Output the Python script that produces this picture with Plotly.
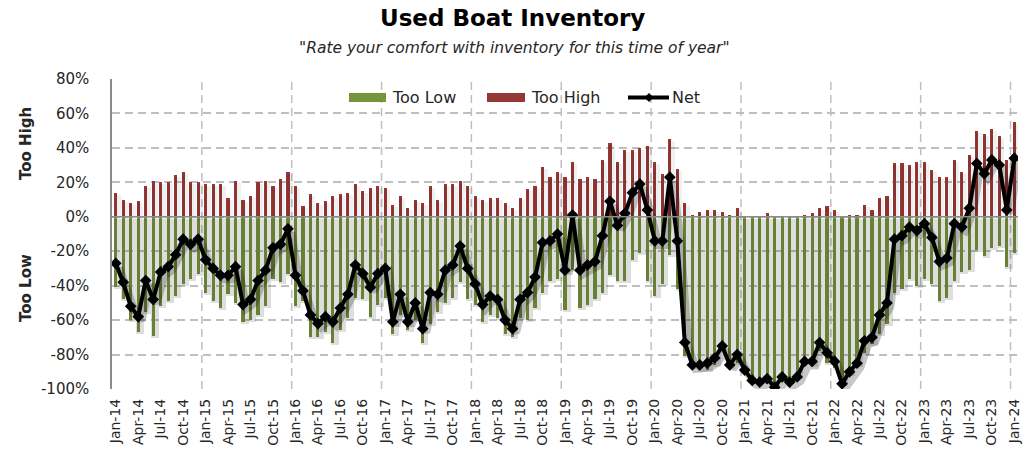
import plotly.graph_objects as go
import pandas as pd

# Monthly survey, Jan-14 .. Jan-24
months = pd.date_range("2014-01-01", "2024-01-01", freq="MS").strftime("%b-%y").tolist()

too_high = [14, 10, 8, 9, 18, 21, 20, 20, 24, 26, 20, 20,
            19, 19, 19, 11, 21, 10, 12, 20, 21, 18, 22, 26,
            18, 6, 13, 8, 9, 12, 13, 14, 19, 15, 17, 18,
            17, 7, 12, 5, 10, 8, 18, 10, 19, 19, 21, 18,
            12, 10, 11, 11, 8, 5, 11, 16, 18, 29, 23, 26,
            23, 32, 22, 23, 22, 33, 43, 32, 39, 39, 40, 41,
            32, 25, 45, 28, 8, 1, 3, 4, 4, 3, 1, 5,
            0, 0, 0, 2, 0, 0, 0, 0, 1, 2, 5, 6,
            4, 0, 1, 1, 7, 4, 11, 12, 31, 31, 30, 32,
            32, 27, 23, 23, 33, 26, 36, 50, 48, 51, 47, 33,
            55]

too_low = [-41, -48, -60, -67, -55, -69, -52, -49, -46, -39, -36, -33,
           -44, -49, -53, -45, -50, -61, -60, -57, -52, -36, -38, -33,
           -52, -49, -70, -70, -67, -73, -66, -59, -47, -48, -58, -51,
           -47, -68, -57, -66, -60, -73, -62, -55, -50, -47, -38, -48,
           -51, -61, -57, -59, -68, -70, -59, -60, -53, -44, -37, -36,
           -54, -31, -53, -51, -48, -44, -34, -37, -37, -25, -21, -37,
           -46, -39, -22, -42, -81, -87, -89, -89, -86, -78, -87, -85,
           -89, -95, -96, -96, -99, -93, -96, -93, -85, -86, -78, -85,
           -88, -97, -91, -86, -79, -74, -68, -62, -44, -42, -36, -40,
           -36, -39, -49, -47, -37, -32, -31, -19, -23, -18, -17, -29,
           -21]

net = [-27, -38, -52, -58, -37, -48, -32, -29, -22, -13, -16, -13,
       -25, -30, -34, -34, -29, -51, -48, -37, -31, -18, -16, -7,
       -34, -43, -57, -62, -58, -61, -53, -45, -28, -33, -41, -33,
       -30, -61, -45, -61, -50, -65, -44, -45, -31, -28, -17, -30,
       -39, -51, -46, -48, -60, -65, -48, -44, -35, -15, -14, -10,
       -31, 1, -31, -28, -26, -11, 9, -5, 2, 14, 19, 4,
       -14, -14, 23, -14, -73, -86, -86, -85, -82, -75, -86, -80,
       -89, -95, -96, -94, -99, -93, -96, -93, -84, -84, -73, -79,
       -84, -97, -90, -85, -72, -70, -57, -50, -13, -11, -6, -8,
       -4, -12, -26, -24, -4, -6, 5, 31, 25, 33, 30, 4,
       34]

tick_labels = months[::3]
y_ticks = [-100, -80, -60, -40, -20, 0, 20, 40, 60, 80]
y_tick_labels = ["-100%", "-80%", "-60%", "-40%", "-20%", "0%", "20%", "40%", "60%", "80%"]

GREEN = "#77933C"
RED = "#953735"
GRID = "#BFBFBF"
TEXT = "#262626"
FONT = "DejaVu Sans"

W, H = 1027, 454
L, R, T, B = 112, 9, 79, 65
PW, PH = W - L - R, H - T - B
X_RANGE = [-0.5, len(months) - 0.5]
Y_RANGE = [-100, 80]


def px_x(px):
    return (px - L) / PW


def px_y(py):
    return (H - B - py) / PH


# shadow layer: same data drawn on an overlay axis nudged right/down a few pixels
sx = 2.0 * (X_RANGE[1] - X_RANGE[0]) / PW
sy = 2.0 * (Y_RANGE[1] - Y_RANGE[0]) / PH
lx = 3.5 * (X_RANGE[1] - X_RANGE[0]) / PW
ly = 4.0 * (Y_RANGE[1] - Y_RANGE[0]) / PH

fig = go.Figure()

fig.add_trace(go.Bar(x=months, y=too_low, width=1.0, marker_color="rgba(0,0,0,0.13)",
                     marker_line_width=0, xaxis="x2", yaxis="y2", hoverinfo="skip",
                     showlegend=False))
fig.add_trace(go.Bar(x=months, y=too_high, width=0.8, marker_color="rgba(0,0,0,0.06)",
                     marker_line_width=0, xaxis="x2", yaxis="y2", hoverinfo="skip",
                     showlegend=False))
fig.add_trace(go.Scatter(x=months, y=net, mode="lines", xaxis="x3", yaxis="y3",
                         line=dict(color="rgba(0,0,0,0.22)", width=8),
                         hoverinfo="skip", showlegend=False))

fig.add_trace(go.Bar(x=months, y=too_low, name="Too Low", width=0.42,
                     marker_color=GREEN, marker_line_width=0))
fig.add_trace(go.Bar(x=months, y=too_high, name="Too High", width=0.42,
                     marker_color=RED, marker_line_width=0))
fig.add_trace(go.Scatter(x=months, y=net, name="Net", mode="lines+markers",
                         line=dict(color="black", width=4),
                         marker=dict(symbol="diamond", size=9, color="black")))

shapes = []
# yearly dashed separators
for k in range(12, len(months), 12):
    shapes.append(dict(type="line", xref="x", yref="paper", x0=k - 0.5, x1=k - 0.5,
                       y0=0, y1=1, layer="below",
                       line=dict(color=GRID, width=1.5, dash="8px,5px")))
# zero line
shapes.append(dict(type="line", xref="paper", yref="y", x0=0, x1=1, y0=0, y1=0,
                   layer="above", line=dict(color="#8C8C8C", width=1.5)))

# legend
leg_y = 97.5
shapes.append(dict(type="rect", xref="paper", yref="paper",
                   x0=px_x(349), x1=px_x(386), y0=px_y(leg_y + 4.5), y1=px_y(leg_y - 4.5),
                   fillcolor=GREEN, line_width=0))
shapes.append(dict(type="rect", xref="paper", yref="paper",
                   x0=px_x(487), x1=px_x(525), y0=px_y(leg_y + 4.5), y1=px_y(leg_y - 4.5),
                   fillcolor=RED, line_width=0))
shapes.append(dict(type="line", xref="paper", yref="paper",
                   x0=px_x(628), x1=px_x(669), y0=px_y(leg_y), y1=px_y(leg_y),
                   line=dict(color="black", width=4)))
dx, dy = 4.5, 4.5
shapes.append(dict(type="path", xref="paper", yref="paper",
                   path=(f"M {px_x(649)},{px_y(leg_y - dy)} L {px_x(649 + dx)},{px_y(leg_y)} "
                         f"L {px_x(649)},{px_y(leg_y + dy)} L {px_x(649 - dx)},{px_y(leg_y)} Z"),
                   fillcolor="black", line_width=0))

annotations = [
    dict(text="<b>Used Boat Inventory</b>", x=px_x(512), y=px_y(18), xref="paper", yref="paper",
         showarrow=False, xanchor="center", yanchor="middle",
         font=dict(family=FONT, size=23, color="black")),
    dict(text="<i>\"Rate your comfort with inventory for this time of year\"</i>",
         x=px_x(514), y=px_y(48), xref="paper", yref="paper", showarrow=False,
         xanchor="center", yanchor="middle", font=dict(family=FONT, size=15.5, color=TEXT)),
    dict(text="<b>Too High</b>", x=px_x(26), y=px_y(144), xref="paper", yref="paper",
         showarrow=False, textangle=-90, xanchor="center", yanchor="middle",
         font=dict(family=FONT, size=15, color=TEXT)),
    dict(text="<b>Too Low</b>", x=px_x(26), y=px_y(288), xref="paper", yref="paper",
         showarrow=False, textangle=-90, xanchor="center", yanchor="middle",
         font=dict(family=FONT, size=15, color=TEXT)),
    dict(text="Too Low", x=px_x(390), y=px_y(leg_y), xref="paper", yref="paper",
         showarrow=False, xanchor="left", yanchor="middle",
         font=dict(family=FONT, size=16, color=TEXT)),
    dict(text="Too High", x=px_x(529), y=px_y(leg_y), xref="paper", yref="paper",
         showarrow=False, xanchor="left", yanchor="middle",
         font=dict(family=FONT, size=16, color=TEXT)),
    dict(text="Net", x=px_x(670), y=px_y(leg_y), xref="paper", yref="paper",
         showarrow=False, xanchor="left", yanchor="middle",
         font=dict(family=FONT, size=16, color=TEXT)),
]

fig.update_layout(
    width=W, height=H,
    margin=dict(l=L, r=R, t=T, b=B),
    paper_bgcolor="white", plot_bgcolor="white",
    barmode="relative", bargap=0,
    showlegend=False,
    font=dict(family=FONT, size=15, color=TEXT),
    shapes=shapes, annotations=annotations,
    xaxis=dict(type="category", range=X_RANGE, tickmode="array", tickvals=tick_labels,
               ticktext=tick_labels, tickangle=-90, showgrid=False, zeroline=False,
               showline=False, ticks="", ticklabelstandoff=6, automargin=False,
               tickfont=dict(family=FONT, size=14, color=TEXT)),
    yaxis=dict(range=Y_RANGE, tickmode="array", tickvals=y_ticks, ticktext=y_tick_labels,
               showgrid=True, gridcolor=GRID, gridwidth=1.5, griddash="8px,5px",
               zeroline=False, showline=True, linecolor="#8C8C8C", linewidth=1.5, ticks="",
               ticklabelstandoff=18, automargin=False,
               tickfont=dict(family=FONT, size=15, color=TEXT)),
    xaxis2=dict(type="category", overlaying="x", range=[X_RANGE[0] - sx, X_RANGE[1] - sx],
                visible=False),
    yaxis2=dict(overlaying="y", range=[Y_RANGE[0] + sy, Y_RANGE[1] + sy], visible=False),
    xaxis3=dict(type="category", overlaying="x", range=[X_RANGE[0] - lx, X_RANGE[1] - lx],
                visible=False),
    yaxis3=dict(overlaying="y", range=[Y_RANGE[0] + ly, Y_RANGE[1] + ly], visible=False),
)

fig.write_html("out.html")
